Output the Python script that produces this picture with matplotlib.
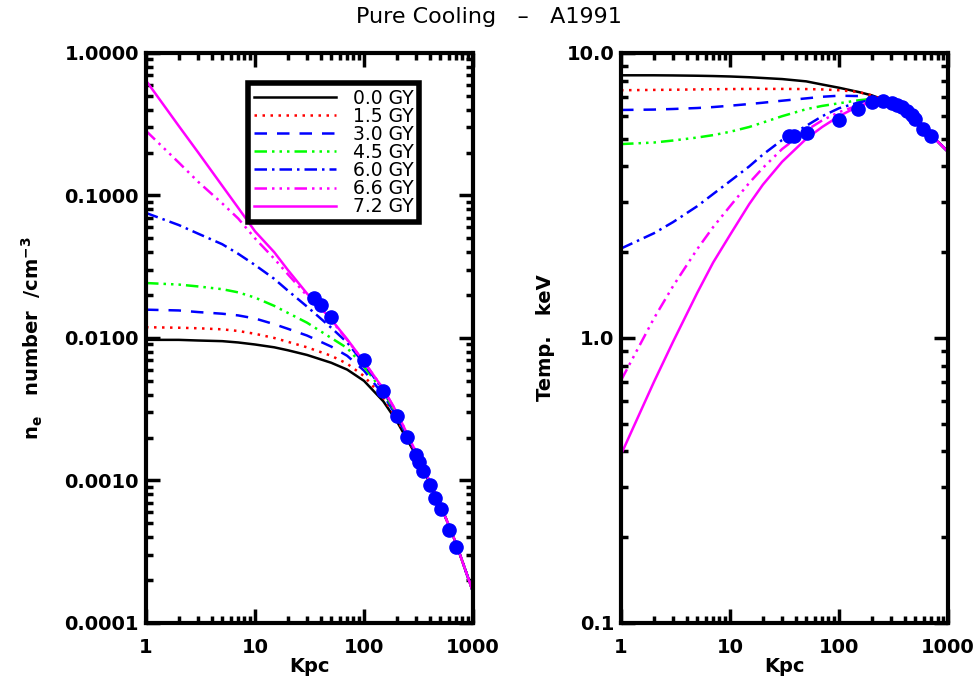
import numpy as np
import matplotlib
matplotlib.use("Agg")
import matplotlib.pyplot as plt

# radii (Kpc) where curves were read
r = [1, 2, 3, 5, 7, 10, 15, 20, 30, 50, 70, 100, 150, 200, 300, 500, 700, 1000]

labels = ["0.0 GY", "1.5 GY", "3.0 GY", "4.5 GY", "6.0 GY", "6.6 GY", "7.2 GY"]

# electron density n_e (cm^-3)
ne_00 = [0.0097, 0.0097, 0.0096, 0.0095, 0.0093, 0.0090, 0.0086, 0.0082, 0.0076, 0.0067, 0.0060, 0.0050, 0.0036, 0.0026, 0.00150, 0.00068, 0.00036, 0.000165]
ne_15 = [0.0119, 0.0118, 0.0117, 0.0115, 0.0112, 0.0107, 0.0100, 0.0094, 0.0086, 0.0075, 0.0066, 0.0054, 0.0038, 0.0027, 0.00153, 0.00068, 0.00036, 0.000165]
ne_30 = [0.0158, 0.0156, 0.0152, 0.0148, 0.0144, 0.0137, 0.0125, 0.0116, 0.0104, 0.0087, 0.0075, 0.0059, 0.0040, 0.0028, 0.00155, 0.00068, 0.00036, 0.000165]
ne_45 = [0.0243, 0.0237, 0.0230, 0.0220, 0.0209, 0.0192, 0.0168, 0.0150, 0.0128, 0.0100, 0.0085, 0.0063, 0.0042, 0.0029, 0.00156, 0.00068, 0.00036, 0.000165]
ne_60 = [0.0754, 0.062, 0.054, 0.0455, 0.039, 0.0325, 0.026, 0.0215, 0.0166, 0.0118, 0.0093, 0.0066, 0.0043, 0.0029, 0.00157, 0.00068, 0.00036, 0.000165]
ne_66 = [0.284, 0.170, 0.125, 0.088, 0.069, 0.050, 0.036, 0.028, 0.0198, 0.0133, 0.0097, 0.0068, 0.0044, 0.0030, 0.00158, 0.00068, 0.00036, 0.000165]
ne_72 = [0.64, 0.307, 0.201, 0.117, 0.082, 0.056, 0.040, 0.030, 0.0205, 0.0135, 0.0098, 0.0068, 0.0044, 0.0030, 0.00158, 0.00068, 0.00036, 0.000165]

# temperature (keV)
t_00 = [8.35, 8.35, 8.34, 8.32, 8.30, 8.27, 8.22, 8.17, 8.10, 7.95, 7.75, 7.55, 7.30, 7.10, 6.70, 5.97, 5.15, 4.50]
t_15 = [7.40, 7.42, 7.43, 7.45, 7.46, 7.47, 7.48, 7.48, 7.48, 7.47, 7.45, 7.40, 7.30, 7.10, 6.70, 5.97, 5.15, 4.50]
t_30 = [6.31, 6.33, 6.36, 6.41, 6.46, 6.53, 6.62, 6.69, 6.80, 6.93, 7.02, 7.08, 7.06, 6.95, 6.70, 5.97, 5.15, 4.50]
t_45 = [4.79, 4.85, 4.93, 5.05, 5.15, 5.29, 5.50, 5.70, 6.00, 6.35, 6.52, 6.66, 6.82, 6.90, 6.70, 5.97, 5.15, 4.50]
t_60 = [2.06, 2.33, 2.55, 2.90, 3.20, 3.55, 4.00, 4.40, 4.95, 5.55, 6.00, 6.40, 6.70, 6.85, 6.70, 5.97, 5.15, 4.50]
t_66 = [0.71, 1.17, 1.52, 2.05, 2.45, 2.90, 3.50, 3.95, 4.60, 5.35, 5.80, 6.20, 6.55, 6.75, 6.70, 5.97, 5.15, 4.50]
t_72 = [0.39, 0.70, 0.97, 1.44, 1.84, 2.30, 2.95, 3.45, 4.15, 5.00, 5.50, 6.00, 6.50, 6.72, 6.70, 5.97, 5.15, 4.50]

# observed points
r_obs_ne = [34.8, 40.1, 49.5, 100, 150, 200, 250, 300, 322, 350, 403, 451, 505, 607, 698]
ne_obs = [0.0192, 0.0171, 0.0140, 0.00695, 0.00423, 0.00282, 0.00201, 0.00152, 0.00134, 0.00116, 0.00093, 0.00075, 0.00063, 0.00045, 0.00034]
r_obs_t = [35.0, 38.9, 50.5, 100, 150, 200, 252, 304, 338, 376, 418, 464, 498, 593, 698]
t_obs = [5.11, 5.11, 5.22, 5.81, 6.37, 6.73, 6.80, 6.66, 6.56, 6.44, 6.27, 6.05, 5.85, 5.43, 5.11]

dd = (0, (5, 2, 1, 2, 1, 2, 1, 2))   # dash dot dot dot
styles = [("black", "-"), ("red", (0, (1, 2.2))), ("blue", (0, (5, 4))),
          ("#00ff00", dd), ("blue", (0, (5, 2, 1, 2))), ("magenta", dd), ("magenta", "-")]

plt.rcParams["font.family"] = "DejaVu Sans"
fig = plt.figure(figsize=(9.78, 6.97), dpi=100)
ax1 = fig.add_axes([0.1493, 0.1062, 0.3344, 0.8178])
ax2 = fig.add_axes([0.635, 0.1062, 0.3344, 0.8178])

ne_all = [ne_00, ne_15, ne_30, ne_45, ne_60, ne_66, ne_72]
t_all = [t_00, t_15, t_30, t_45, t_60, t_66, t_72]

for (c, ls), lab, ne in zip(styles, labels, ne_all):
    ax1.plot(r, ne, color=c, linestyle=ls, lw=1.8, label=lab)
for (c, ls), t in zip(styles, t_all):
    ax2.plot(r, t, color=c, linestyle=ls, lw=1.8)

ax1.plot(r_obs_ne, ne_obs, "o", color="blue", ms=9.5, mec="blue")
ax2.plot(r_obs_t, t_obs, "o", color="blue", ms=9.5, mec="blue")

for ax in (ax1, ax2):
    ax.set_xscale("log")
    ax.set_yscale("log")
    ax.set_xlim(1, 1000)
    ax.set_xticks([1, 10, 100, 1000])
    ax.set_xticklabels(["1", "10", "100", "1000"])
    ax.tick_params(which="both", direction="in", top=True, right=True,
                   labelsize=14, width=2.5)
    ax.tick_params(axis="x", pad=11)
    ax.tick_params(axis="y", pad=5)
    ax.tick_params(which="major", length=10)
    ax.tick_params(which="minor", length=5)
    for s in ax.spines.values():
        s.set_linewidth(3)
    for lbl in ax.get_xticklabels() + ax.get_yticklabels():
        lbl.set_fontweight("bold")
    ax.set_xlabel("Kpc", fontsize=14, fontweight="bold", labelpad=0)

ax1.set_ylim(1e-4, 1)
ax1.set_yticks([1e-4, 1e-3, 1e-2, 1e-1, 1])
ax1.set_yticklabels(["0.0001", "0.0010", "0.0100", "0.1000", "1.0000"], fontweight="bold")
ax1.set_ylabel(r"n$_\mathbf{e}$   number  /cm$^{\mathbf{-3}}$", fontsize=14, fontweight="bold", labelpad=14)

ax2.set_ylim(0.1, 10)
ax2.set_yticks([0.1, 1, 10])
ax2.set_yticklabels(["0.1", "1.0", "10.0"], fontweight="bold")
ax2.set_ylabel("Temp.   keV", fontsize=14, fontweight="bold", labelpad=8)

leg = ax1.legend(loc="upper left", bbox_to_anchor=(0.312, 0.947), borderaxespad=0,
                 fontsize=13.5, handlelength=4.4, fancybox=False, edgecolor="black",
                 framealpha=1, borderpad=0.3, labelspacing=-0.05, handletextpad=0.9)
leg.get_frame().set_linewidth(4)

fig.text(0.5, 0.975, "Pure Cooling   \u2013   A1991", ha="center", va="center", fontsize=16)

fig.savefig("out.png", dpi=100)
